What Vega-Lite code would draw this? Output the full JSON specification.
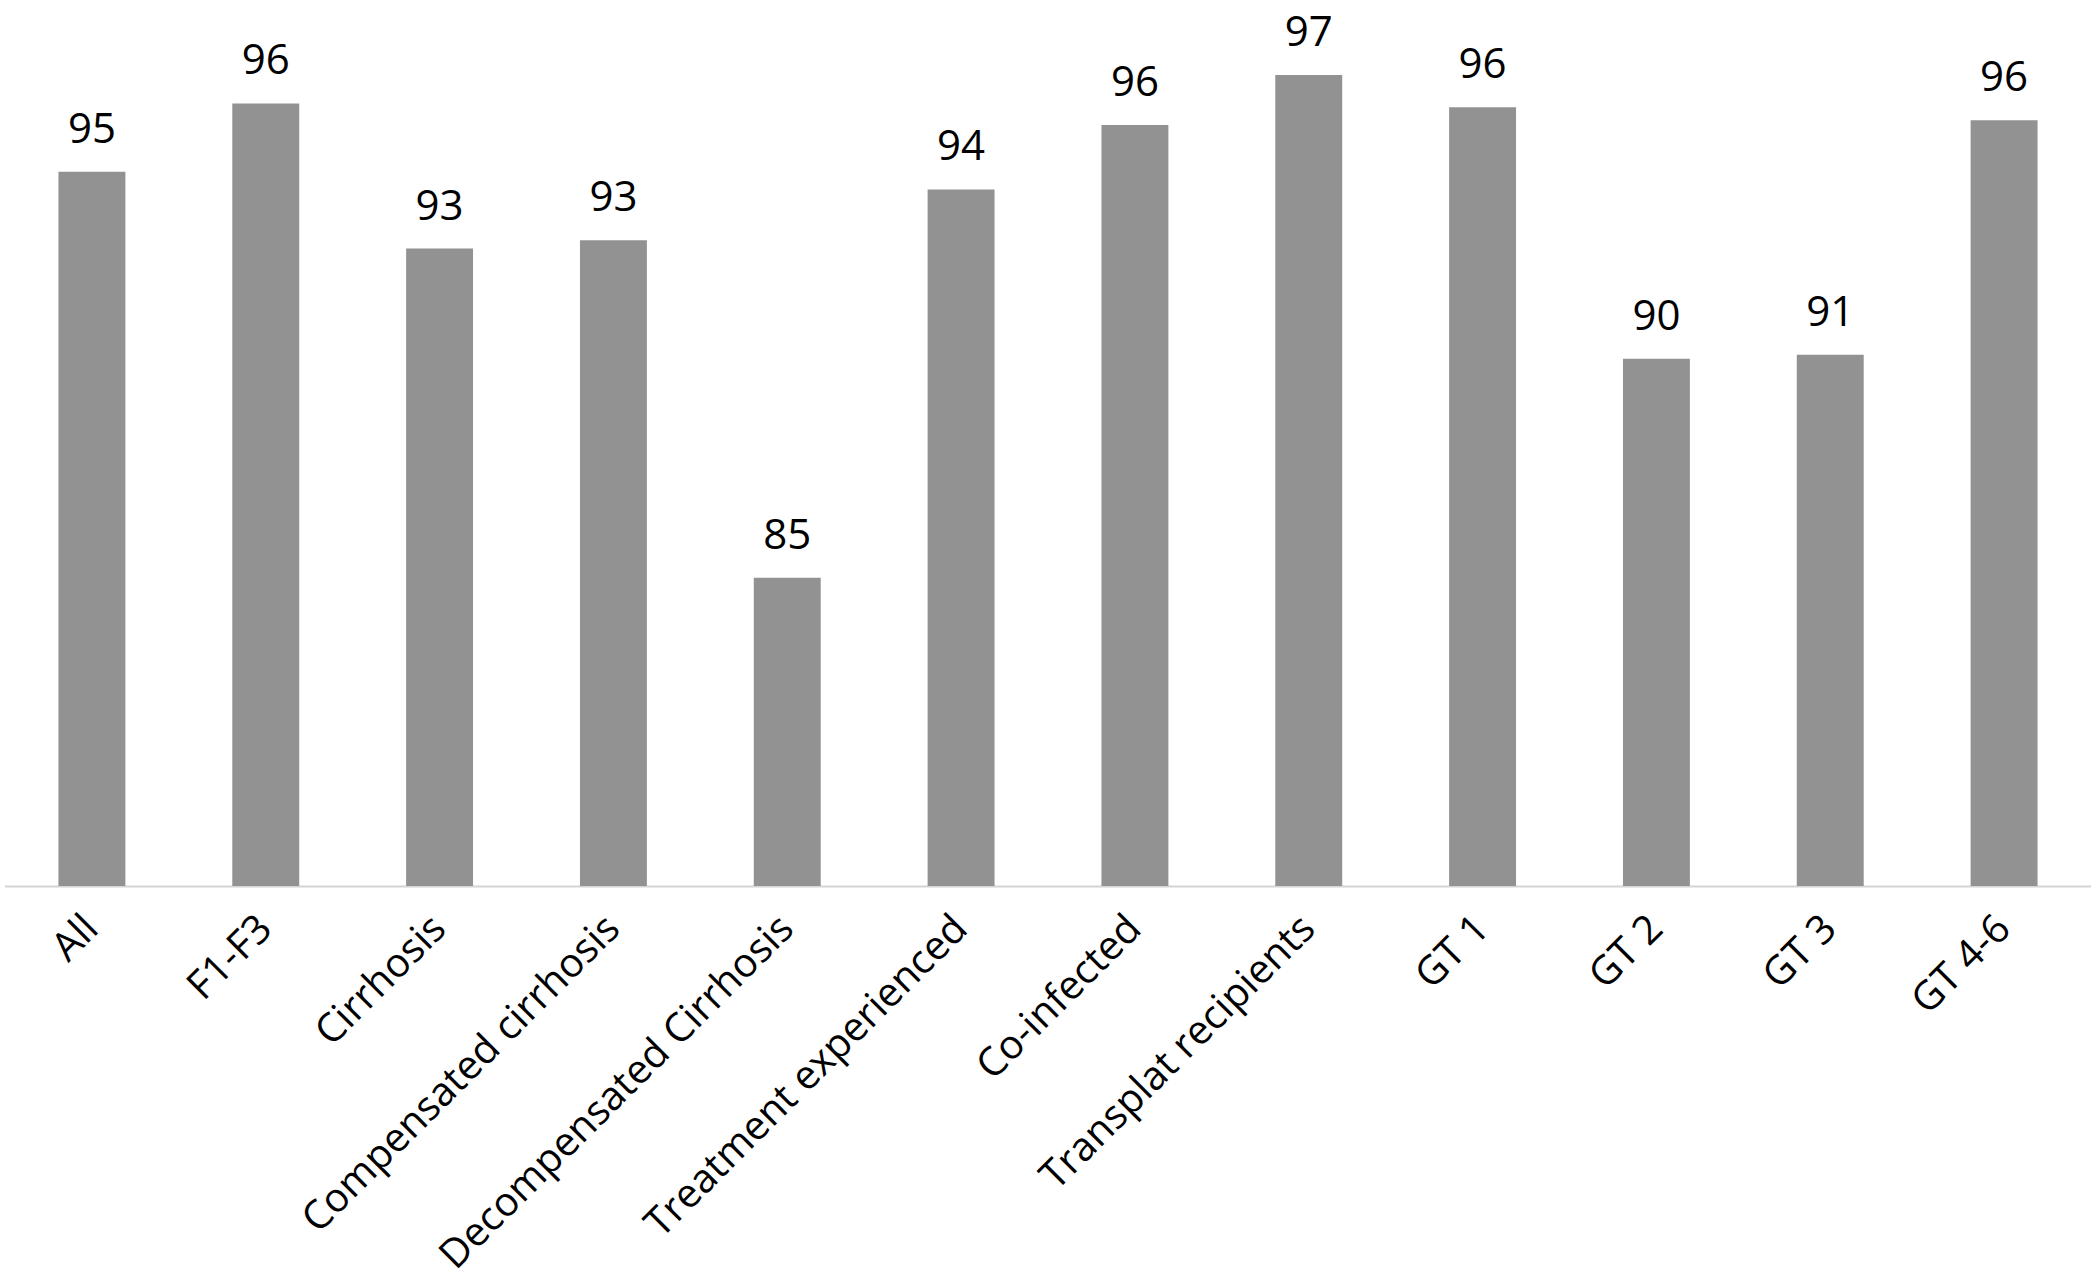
{
  "$schema": "https://vega.github.io/schema/vega-lite/v6.json",
  "width": 2086,
  "height": 880,
  "autosize": {"type": "none"},
  "padding": {"left": 5, "top": 6, "right": 0, "bottom": 396},
  "background": "white",
  "config": {"view": {"stroke": null}, "font": "Open Sans"},
  "data": {
    "values": [
      {"group": "All", "svr": 94.79},
      {"group": "F1-F3", "svr": 96.37},
      {"group": "Cirrhosis", "svr": 93.01},
      {"group": "Compensated cirrhosis", "svr": 93.2},
      {"group": "Decompensated Cirrhosis", "svr": 85.39},
      {"group": "Treatment experienced", "svr": 94.38},
      {"group": "Co-infected", "svr": 95.87},
      {"group": "Transplat recipients", "svr": 97.03},
      {"group": "GT 1", "svr": 96.28},
      {"group": "GT 2", "svr": 90.46},
      {"group": "GT 3", "svr": 90.55},
      {"group": "GT 4-6", "svr": 95.98}
    ]
  },
  "encoding": {
    "x": {
      "field": "group",
      "type": "nominal",
      "sort": null,
      "scale": {"paddingInner": 0.615, "paddingOuter": 0.3075},
      "axis": {
        "title": null,
        "ticks": false,
        "tickSize": 0,
        "labelAngle": -45,
        "labelAlign": "right",
        "labelBaseline": "middle",
        "labelPadding": 36,
        "labelOffset": 0,
        "labelFont": "Open Sans",
        "labelFontSize": 40,
        "labelColor": "#000000",
        "labelLimit": 0,
        "domainColor": "#a8a8a8",
        "domainWidth": 2,
        "domainDash": [1, 1]
      }
    },
    "y": {
      "field": "svr",
      "type": "quantitative",
      "scale": {"domain": [78.255, 98.625], "zero": false, "nice": false},
      "axis": null
    }
  },
  "layer": [
    {
      "mark": {"type": "bar", "color": "#929292"},
      "encoding": {"y2": {"datum": 78.255}}
    },
    {
      "mark": {"type": "text", "baseline": "alphabetic", "dy": -29, "font": "Open Sans", "fontSize": 42, "color": "#000000"},
      "encoding": {"text": {"field": "svr", "type": "quantitative", "format": ".0f"}}
    }
  ]
}
